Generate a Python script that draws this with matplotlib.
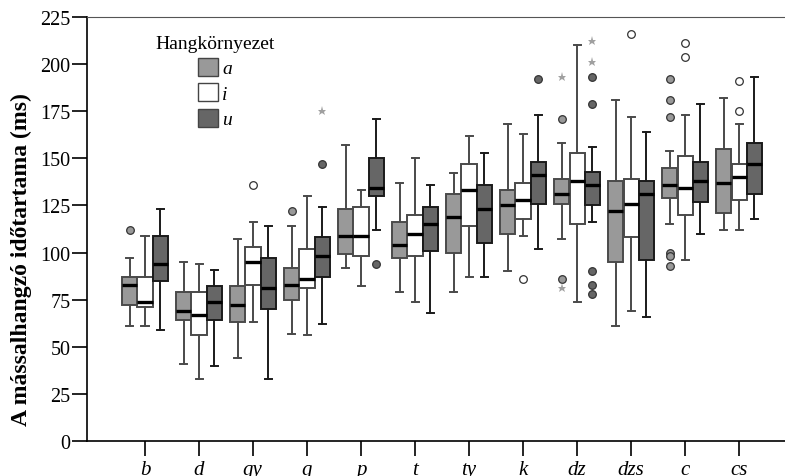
import numpy as np
import matplotlib
matplotlib.use('Agg')
import matplotlib.pyplot as plt
from matplotlib.patches import Patch

plt.rcParams['font.family'] = ['Liberation Serif', 'DejaVu Serif']

# Consonants on the x axis
consonants = ['b', 'd', 'gy', 'g', 'p', 't', 'ty', 'k', 'dz', 'dzs', 'c', 'cs']
contexts = ['a', 'i', 'u']

# Context a (ms)
a_q1 = [72, 64, 63, 75, 99, 97, 100, 110, 126, 95, 129, 121]
a_med = [83, 69, 72, 83, 109, 104, 119, 125, 131, 122, 136, 137]
a_q3 = [87, 79, 82, 92, 123, 116, 131, 133, 139, 138, 145, 155]
a_lo = [61, 41, 44, 57, 92, 79, 79, 90, 107, 61, 115, 112]
a_hi = [97, 95, 107, 114, 157, 137, 142, 168, 158, 181, 154, 182]
a_out = [[112], [], [], [122], [], [], [], [], [171, 86], [], [192, 181, 172, 100, 98, 93], []]
a_ext = [[], [], [], [], [], [], [], [], [193, 81], [], [], []]

# Context i
i_q1 = [71, 56, 83, 81, 98, 98, 114, 118, 115, 108, 120, 128]
i_med = [74, 67, 95, 86, 109, 110, 133, 128, 138, 126, 134, 140]
i_q3 = [87, 79, 103, 102, 124, 120, 147, 137, 153, 139, 151, 147]
i_lo = [61, 33, 63, 56, 82, 74, 87, 109, 74, 69, 96, 112]
i_hi = [109, 94, 116, 130, 133, 150, 162, 163, 210, 172, 173, 168]
i_out = [[], [], [136], [], [], [], [], [86], [], [216], [211, 204], [191, 175]]
i_ext = [[], [], [], [], [], [], [], [], [], [], [], []]

# Context u
u_q1 = [85, 64, 70, 87, 130, 101, 105, 126, 125, 96, 127, 131]
u_med = [94, 74, 81, 98, 134, 115, 123, 141, 136, 131, 138, 147]
u_q3 = [109, 82, 97, 108, 150, 124, 136, 148, 143, 138, 148, 158]
u_lo = [59, 40, 33, 62, 112, 68, 87, 102, 116, 66, 110, 118]
u_hi = [123, 91, 114, 124, 171, 136, 153, 173, 156, 164, 179, 193]
u_out = [[], [], [], [147], [94], [], [], [192], [193, 179, 90, 83, 78], [], [], []]
u_ext = [[], [], [], [175], [], [], [], [], [212, 201], [], [], []]

series = {
    'a': (a_q1, a_med, a_q3, a_lo, a_hi, a_out, a_ext),
    'i': (i_q1, i_med, i_q3, i_lo, i_hi, i_out, i_ext),
    'u': (u_q1, u_med, u_q3, u_lo, u_hi, u_out, u_ext),
}

face = {'a': '#999999', 'i': '#ffffff', 'u': '#666666'}
edge = {'a': '#4a4a4a', 'i': '#4a4a4a', 'u': '#1a1a1a'}
offsets = {'a': -0.285, 'i': 0.0, 'u': 0.285}

W, H = 785, 477
fig = plt.figure(figsize=(W / 100, H / 100), dpi=100)
ax = fig.add_axes([87 / W, 35 / H, 1 - 87 / W, (442 - 18) / H])

x = np.arange(len(consonants))
for ctx in contexts:
    q1, med, q3, lo, hi, out, ext = series[ctx]
    stats = []
    for k in range(len(consonants)):
        stats.append({'q1': q1[k], 'med': med[k], 'q3': q3[k],
                      'whislo': lo[k], 'whishi': hi[k], 'fliers': out[k]})
    pos = x + offsets[ctx]
    ax.bxp(stats, positions=pos, widths=0.28, capwidths=0.13,
           patch_artist=True, manage_ticks=False,
           boxprops=dict(facecolor=face[ctx], edgecolor=edge[ctx], linewidth=1.4),
           whiskerprops=dict(color=edge[ctx], linewidth=1.4),
           capprops=dict(color=edge[ctx], linewidth=1.4),
           medianprops=dict(color='black', linewidth=2.4),
           flierprops=dict(marker='o', markersize=5.5, markerfacecolor=face[ctx],
                           markeredgecolor='#333333', markeredgewidth=0.9))
    # extreme values (stars)
    for k in range(len(consonants)):
        if ext[k]:
            ax.plot([pos[k]] * len(ext[k]), ext[k], linestyle='none', marker='*',
                    markersize=6.5, color='#a0a0a0', markeredgewidth=0)

ax.set_xlim(-1.074, 11.85)
ax.set_ylim(0, 225)
ax.set_yticks(np.arange(0, 226, 25))
ax.set_xticks(x)
ax.set_xticklabels(consonants, fontstyle='italic', fontsize=15)
ax.tick_params(axis='y', labelsize=14.5, length=11, width=1.2, pad=1)
ax.tick_params(axis='x', length=11, width=1.2, pad=3)

ax.spines['right'].set_visible(False)
ax.spines['top'].set_color('#555555')
for s in ['left', 'bottom']:
    ax.spines[s].set_linewidth(1.2)

ax.set_ylabel('A mássalhangzó időtartama (ms)', fontsize=17, fontweight='bold')
ax.yaxis.set_label_coords(-0.079, 0.43)

handles = [Patch(facecolor=face[c], edgecolor='#444444', linewidth=1.0) for c in contexts]
leg = ax.legend(handles, contexts, title='Hangkörnyezet', loc='upper center',
                bbox_to_anchor=(215 / W, 1 - 26 / H), bbox_transform=fig.transFigure,
                frameon=False, fontsize=14, title_fontsize=14, handlelength=1.05,
                handleheight=1.05, handletextpad=0.2, labelspacing=0.3, borderpad=0)
for t in leg.get_texts():
    t.set_fontstyle('italic')

fig.savefig('out.png', dpi=100)
